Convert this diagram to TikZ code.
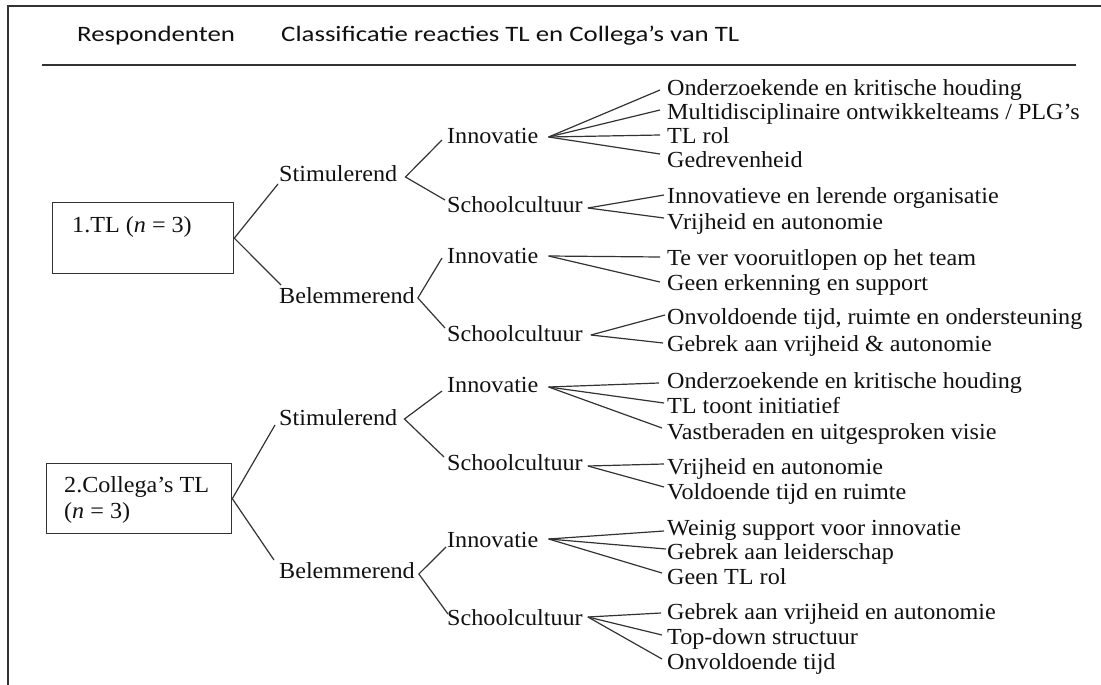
\documentclass[tikz,border=0pt]{standalone}
\usepackage{fontspec}
\setmainfont{Liberation Serif}[FakeStretch=1.05]
\newfontfamily\hdrfont{Carlito}[FakeStretch=1.22]
\definecolor{ink}{HTML}{111111}
\definecolor{linecol}{HTML}{333333}
\begin{document}
\begin{tikzpicture}[x=1pt,y=-1pt,
  lbl/.style={font=\fontsize{23}{26}\selectfont, text=ink, inner sep=0pt, text height=15pt, text depth=0pt, anchor=west},
  hdr/.style={font=\hdrfont\fontsize{22}{26}\selectfont, text=ink, inner sep=0pt, anchor=base west},
  box/.style={draw=linecol, line width=1.3pt, anchor=north west, inner sep=0pt},
  conn/.style={draw=linecol, line width=1.2pt},
  frame/.style={draw=linecol, line width=1.4pt}]
\useasboundingbox (0,0) rectangle (1101,685);
\fill[white] (0,0) rectangle (1101,685);
% outer frame (top and left only) and header rule
\draw[frame] (8,685) -- (8,6) -- (1101,6);
\draw[conn] (42,65) -- (1076,65);
% header
\node[hdr] (resp) at (77,42) {Respondenten};
\node[hdr] (cls) at (281,42) {Classificatie reacties TL en Collega’s van TL};
% respondent boxes
\node[box, minimum width=181pt, minimum height=71pt] (b1) at (52,202) {};
\node[lbl] (b1t) at (72,225) {1.TL (\textit{n} = 3)};
\node[box, minimum width=185pt, minimum height=70pt] (b2) at (46,463) {};
\node[lbl] (b2t) at (64,485) {2.Collega’s TL};
\node[lbl] (b2n) at (64,511) {(\textit{n} = 3)};
% level 1
\node[lbl] (s1) at (279,174) {Stimulerend};
\node[lbl] (be1) at (279,296) {Belemmerend};
\node[lbl] (s2) at (279,418) {Stimulerend};
\node[lbl] (be2) at (279,571) {Belemmerend};
% level 2
\node[lbl] (i1) at (447,136) {Innovatie};
\node[lbl] (c1) at (447,205) {Schoolcultuur};
\node[lbl] (i2) at (447,256) {Innovatie};
\node[lbl] (c2) at (447,334) {Schoolcultuur};
\node[lbl] (i3) at (447,385) {Innovatie};
\node[lbl] (c3) at (447,463) {Schoolcultuur};
\node[lbl] (i4) at (447,540) {Innovatie};
\node[lbl] (c4) at (447,618) {Schoolcultuur};
% level 3
\node[lbl] (i1a) at (667,88) {Onderzoekende en kritische houding};
\node[lbl] (i1b) at (667,112) {Multidisciplinaire ontwikkelteams / PLG’s};
\node[lbl] (i1c) at (667,136) {TL rol};
\node[lbl] (i1d) at (667,160) {Gedrevenheid};
\node[lbl] (c1a) at (667,196) {Innovatieve en lerende organisatie};
\node[lbl] (c1b) at (667,222) {Vrijheid en autonomie};
\node[lbl] (i2a) at (667,258) {Te ver vooruitlopen op het team};
\node[lbl] (i2b) at (667,283) {Geen erkenning en support};
\node[lbl] (c2a) at (667,317) {Onvoldoende tijd, ruimte en ondersteuning};
\node[lbl] (c2b) at (667,344) {Gebrek aan vrijheid \& autonomie};
\node[lbl] (i3a) at (667,381) {Onderzoekende en kritische houding};
\node[lbl] (i3b) at (667,406) {TL toont initiatief};
\node[lbl] (i3c) at (667,432) {Vastberaden en uitgesproken visie};
\node[lbl] (c3a) at (667,467) {Vrijheid en autonomie};
\node[lbl] (c3b) at (667,492) {Voldoende tijd en ruimte};
\node[lbl] (i4a) at (667,528) {Weinig support voor innovatie};
\node[lbl] (i4b) at (667,552) {Gebrek aan leiderschap};
\node[lbl] (i4c) at (667,577) {Geen TL rol};
\node[lbl] (c4a) at (667,612) {Gebrek aan vrijheid en autonomie};
\node[lbl] (c4b) at (667,637) {Top-down structuur};
\node[lbl] (c4c) at (667,662) {Onvoldoende tijd};
% branching points
\coordinate (vs1) at ([shift={(8,3)}]s1.east);
\coordinate (vbe1) at ([shift={(3,2)}]be1.east);
\coordinate (vs2) at ([shift={(7,1)}]s2.east);
\coordinate (vbe2) at ([shift={(4,3)}]be2.east);
\coordinate (vi1) at ([shift={(10,1)}]i1.east);
\coordinate (vc1) at ([shift={(5,3)}]c1.east);
\coordinate (vi2) at ([shift={(10,0)}]i2.east);
\coordinate (vc2) at ([shift={(8,1)}]c2.east);
\coordinate (vi3) at ([shift={(10,2)}]i3.east);
\coordinate (vc3) at ([shift={(5,3)}]c3.east);
\coordinate (vi4) at ([shift={(10,-1)}]i4.east);
\coordinate (vc4) at ([shift={(5,-1)}]c4.east);
% box -> level 1
\draw[conn] (b1.east) -- ([shift={(-1,10)}]s1.west);
\draw[conn] (b1.east) -- ([shift={(2,-11)}]be1.west);
\draw[conn] (b2.east) -- ([shift={(-4,7)}]s2.west);
\draw[conn] (b2.east) -- ([shift={(-5,-11)}]be2.west);
% level 1 -> level 2
\draw[conn] ([shift={(-5,4)}]i1.west) -- (vs1) -- ([shift={(-2,-5)}]c1.west);
\draw[conn] ([shift={(-5,2)}]i2.west) -- (vbe1) -- ([shift={(-2,-6)}]c2.west);
\draw[conn] ([shift={(-5,6)}]i3.west) -- (vs2) -- ([shift={(-3,-6)}]c3.west);
\draw[conn] ([shift={(-1,7)}]i4.west) -- (vbe2) -- ([shift={(1,-4)}]c4.west);
% level 2 -> level 3
\draw[conn] (vi1) -- ([shift={(-7,2)}]i1a.west);
\draw[conn] (vi1) -- ([shift={(-7,-2)}]i1b.west);
\draw[conn] (vi1) -- ([shift={(-7,-1)}]i1c.west);
\draw[conn] (vi1) -- ([shift={(-7,-6)}]i1d.west);
\draw[conn] (vc1) -- ([shift={(-3,-1)}]c1a.west);
\draw[conn] (vc1) -- ([shift={(-3,-4)}]c1b.west);
\draw[conn] (vi2) -- ([shift={(-7,-1)}]i2a.west);
\draw[conn] (vi2) -- ([shift={(-7,-1)}]i2b.west);
\draw[conn] (vc2) -- ([shift={(-2,-2)}]c2a.west);
\draw[conn] (vc2) -- ([shift={(-4,-1)}]c2b.west);
\draw[conn] (vi3) -- ([shift={(-8,2)}]i3a.west);
\draw[conn] (vi3) -- ([shift={(-3,-3)}]i3b.west);
\draw[conn] (vi3) -- ([shift={(-5,-4)}]i3c.west);
\draw[conn] (vc3) -- ([shift={(-3,-3)}]c3a.west);
\draw[conn] (vc3) -- ([shift={(-3,-5)}]c3b.west);
\draw[conn] (vi4) -- ([shift={(-3,3)}]i4a.west);
\draw[conn] (vi4) -- ([shift={(-1,-3)}]i4b.west);
\draw[conn] (vi4) -- ([shift={(-5,-4)}]i4c.west);
\draw[conn] (vc4) -- ([shift={(-6,1)}]c4a.west);
\draw[conn] (vc4) -- ([shift={(-5,-2)}]c4b.west);
\draw[conn] (vc4) -- ([shift={(-5,-3)}]c4c.west);
\end{tikzpicture}
\end{document}
